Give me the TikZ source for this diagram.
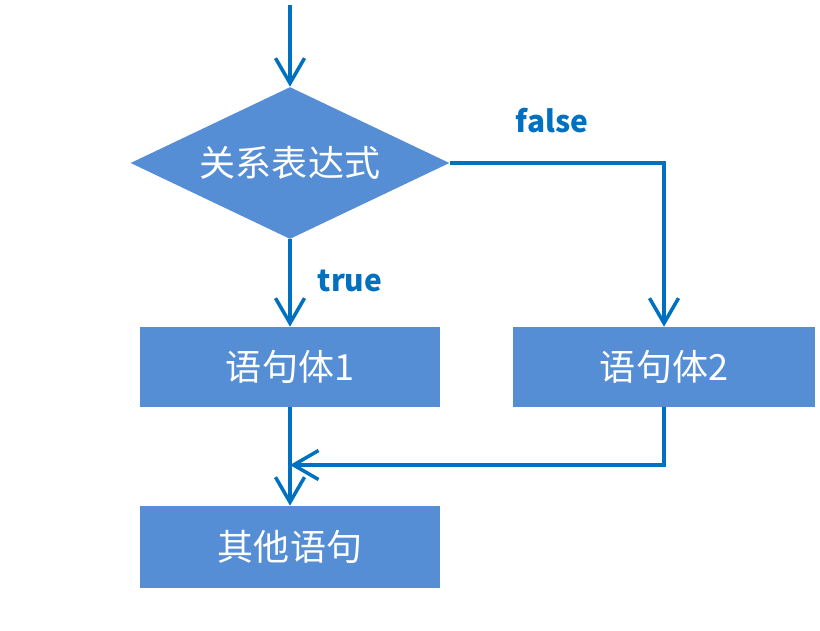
\documentclass[tikz,border=0pt]{standalone}
\usepackage{fontspec}
\usepackage{xcolor}
\usetikzlibrary{arrows.meta,positioning,shapes.geometric}
\newfontfamily\cjk{Noto Sans CJK SC}
\definecolor{boxfill}{HTML}{558ED5}
\definecolor{flow}{HTML}{0070C0}
\tikzset{
  block/.style={rectangle,fill=boxfill,text=white,minimum width=6cm,minimum height=1.6cm,
                inner sep=0pt,font=\cjk\fontsize{20.5}{24}\selectfont},
  cond/.style={diamond,fill=boxfill,text=white,shape aspect=2.1,minimum width=6.38cm,
               minimum height=3.04cm,inner sep=0pt,font=\cjk\fontsize{20.5}{24}\selectfont},
  flowline/.style={draw=flow,line width=2pt,-{Straight Barb[length=0.5cm,width=0.58cm]}},
  tag/.style={text=flow,font=\cjk\bfseries\fontsize{17}{20}\selectfont}
}

\begin{document}
\begin{tikzpicture}[x=0.02cm,y=-0.02cm]
  \useasboundingbox (0,0) rectangle (820,630);
  % nodes
  \coordinate (entry) at (290,5);
  \node[cond] (test) at (290,163) {关系表达式};
  \node[block] (body1) at (290,367) {语句体1};
  \node[block,minimum width=6.06cm] (body2) at (664,367) {语句体2};
  \node[block,minimum height=1.64cm] (other) at (290,547) {其他语句};
  \node[tag] (yes) at (350,281) {true};
  \node[tag] (no) at (552,121) {false};
  \coordinate (merge) at (290,465);
  % connectors
  \draw[flowline] (entry) -- (test.north);
  \draw[flowline] (test.south) -- (body1.north);
  \draw[flowline] (test.east) -| (body2.north);
  \draw[flowline] (body1.south) -- (other.north);
  \draw[flowline] (body2.south) |- (merge);
\end{tikzpicture}
\end{document}
